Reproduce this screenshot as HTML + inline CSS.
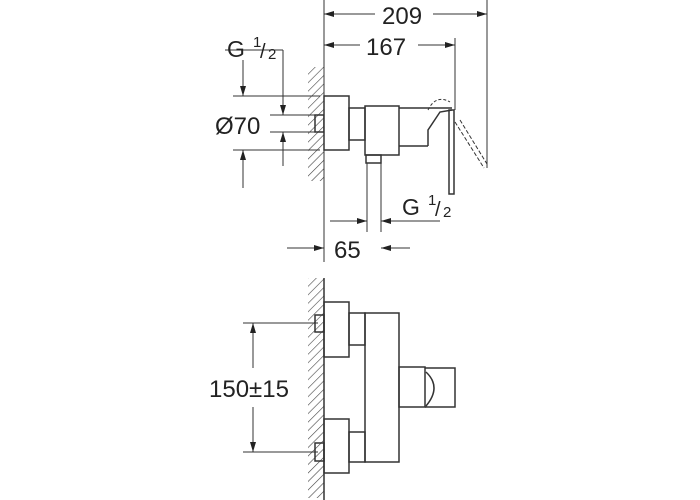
<!DOCTYPE html><html><head><style>body{margin:0;background:#fff}svg{display:block}text{font-family:"Liberation Sans",sans-serif;fill:#222}</style></head><body>
<svg width="700" height="500" viewBox="0 0 700 500" xmlns="http://www.w3.org/2000/svg">
<defs>
<pattern id="h" width="6" height="6" patternUnits="userSpaceOnUse" patternTransform="rotate(45)"><line x1="0" y1="0" x2="0" y2="6" stroke="#444" stroke-width="1.2"/></pattern>
<marker id="a" viewBox="0 0 10 6" refX="10" refY="3" markerWidth="10" markerHeight="6" orient="auto" markerUnits="userSpaceOnUse"><path d="M0,0L10,3L0,6z" fill="#222"/></marker>
</defs>
<g stroke="#333" stroke-width="1" fill="none">
<rect x="308" y="67" width="16" height="114" fill="url(#h)" stroke="none"/>
<line x1="324" y1="0" x2="324" y2="262"/>
<line x1="487" y1="0" x2="487" y2="168"/>
<line x1="455" y1="38" x2="455" y2="110"/>
<line x1="375" y1="14" x2="324" y2="14" marker-end="url(#a)"/>
<line x1="433" y1="14" x2="487" y2="14" marker-end="url(#a)"/>
<line x1="360" y1="45" x2="324" y2="45" marker-end="url(#a)"/>
<line x1="418" y1="45" x2="455" y2="45" marker-end="url(#a)"/>
<line x1="225" y1="50" x2="283" y2="50"/>
<line x1="283" y1="50" x2="283" y2="96"/>
<line x1="233" y1="96" x2="320" y2="96"/>
<line x1="233" y1="150" x2="320" y2="150"/>
<line x1="270" y1="115" x2="315" y2="115"/>
<line x1="270" y1="132" x2="315" y2="132"/>
<line x1="243" y1="60" x2="243" y2="96" marker-end="url(#a)"/>
<line x1="243" y1="188" x2="243" y2="150" marker-end="url(#a)"/>
<line x1="283" y1="96" x2="283" y2="115" marker-end="url(#a)"/>
<line x1="283" y1="150" x2="283" y2="132" marker-end="url(#a)"/>
<line x1="283" y1="150" x2="283" y2="166"/>
<g stroke-width="1.5">
<rect x="315" y="115" width="9" height="17"/>
<rect x="324" y="96" width="25" height="54" fill="#fff"/>
<rect x="349" y="108" width="16" height="32"/>
<rect x="365" y="106" width="34" height="49"/>
<path d="M399 108H452M399 146H428"/>
<path d="M428 146V130L440 112L452 110" />
<rect x="449" y="110" width="5" height="84"/>
<rect x="366" y="155" width="15" height="8"/>
</g>
<line x1="367" y1="163" x2="367" y2="232"/>
<line x1="381" y1="163" x2="381" y2="232"/>
<path d="M428 110q8-16 22-8" stroke-dasharray="3 2"/>
<line x1="455" y1="122" x2="484" y2="168" stroke-dasharray="4 2"/>
<line x1="460" y1="120" x2="487" y2="164" stroke-dasharray="4 2"/>
<line x1="330" y1="221" x2="367" y2="221" marker-end="url(#a)"/>
<line x1="440" y1="221" x2="381" y2="221" marker-end="url(#a)"/>
<line x1="287" y1="248" x2="324" y2="248" marker-end="url(#a)"/>
<line x1="410" y1="248" x2="381" y2="248" marker-end="url(#a)"/>
<rect x="308" y="278" width="16" height="220" fill="url(#h)" stroke="none"/>
<line x1="324" y1="278" x2="324" y2="500" stroke-width="1.5"/>
<line x1="243" y1="323" x2="318" y2="323"/>
<line x1="243" y1="452" x2="318" y2="452"/>
<line x1="253" y1="368" x2="253" y2="323" marker-end="url(#a)"/>
<line x1="253" y1="407" x2="253" y2="452" marker-end="url(#a)"/>
<g stroke-width="1.5">
<rect x="315" y="315" width="9" height="17"/>
<rect x="315" y="443" width="9" height="18"/>
<rect x="324" y="302" width="25" height="55"/>
<rect x="324" y="419" width="25" height="54"/>
<rect x="349" y="313" width="16" height="32"/>
<rect x="349" y="432" width="16" height="30"/>
<rect x="365" y="313" width="34" height="149"/>
<rect x="399" y="367" width="26" height="40"/>
<path d="M425 368H455V407H425M426 372q16 15 0 34"/>
</g>
</g>
<text x="227" y="57" font-size="23">G</text><text x="253" y="47" font-size="15">1</text><text x="260" y="58" font-size="20">/</text><text x="268" y="59" font-size="15">2</text>
<text x="215" y="134" font-size="24">Ø70</text>
<text x="382" y="24" font-size="24">209</text>
<text x="366" y="55" font-size="24">167</text>
<text x="402" y="215" font-size="23">G</text><text x="428" y="205" font-size="15">1</text><text x="435" y="216" font-size="20">/</text><text x="443" y="217" font-size="15">2</text>
<text x="334" y="258" font-size="24">65</text>
<text x="209" y="397" font-size="24">150±15</text>
</svg></body></html>
